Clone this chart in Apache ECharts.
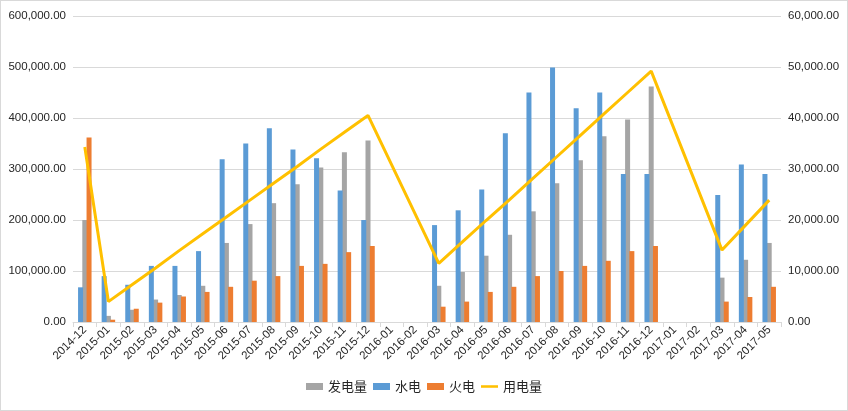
<!DOCTYPE html>
<html>
<head>
<meta charset="utf-8">
<script src="https://cdn.jsdelivr.net/npm/echarts@6/dist/echarts.min.js"></script>
<style>
html,body{margin:0;padding:0;background:#fff;}
#c{width:846px;height:409px;border:1px solid #d9d9d9;}
</style>
</head>
<body>
<div id="c"></div>
<script>
const categories = ['2014-12','2015-01','2015-02','2015-03','2015-04','2015-05','2015-06','2015-07','2015-08','2015-09','2015-10','2015-11','2015-12','2016-01','2016-02','2016-03','2016-04','2016-05','2016-06','2016-07','2016-08','2016-09','2016-10','2016-11','2016-12','2017-01','2017-02','2017-03','2017-04','2017-05'];
const hydro = [68000,90000,73000,110000,110000,139000,319000,350000,380000,338000,321000,258000,200000,null,null,190000,219000,260000,370000,450000,499000,419000,450000,290000,290000,null,null,249000,309000,290000];
const generation = [200000,12000,24000,44000,53000,71000,155000,192000,233000,270000,303000,333000,356000,null,null,71000,98000,130000,171000,217000,272000,317000,364000,397000,462000,null,null,87000,122000,155000];
const thermal = [362000,4500,26000,38000,50000,59000,69000,81000,90000,110000,114000,137000,149000,null,null,30000,40000,59000,69000,90000,100000,110000,120000,139000,149000,null,null,40000,49000,69000];
const consumption = [34300,4000,7300,10600,14000,17300,20600,23900,27200,30500,33900,37200,40500,null,null,11500,15700,19900,24000,28200,32400,36600,40800,45000,49200,null,null,14100,19000,23900];
const leftTicks = [0,100000,200000,300000,400000,500000,600000];
const rightTicks = [0,10000,20000,30000,40000,50000,60000];

const fmt = v => v.toLocaleString('en-US',{minimumFractionDigits:2,maximumFractionDigits:2});
const font = '"Liberation Sans","Noto Sans CJK SC",sans-serif';
const chart = echarts.init(document.getElementById('c'));
chart.setOption({
  animation:false,
  textStyle:{fontFamily:font},
  grid:{left:72,right:66,top:15,bottom:88},
  legend:{
    data:[
      {name:'发电量',icon:'rect'},
      {name:'水电',icon:'rect'},
      {name:'火电',icon:'rect'},
      {name:'用电量',icon:'path://M0 0H40V6H0Z'}
    ],
    bottom:12,left:'center',
    itemWidth:17,itemHeight:7,itemGap:6,
    textStyle:{fontSize:13,color:'#262626',fontFamily:'"Noto Sans CJK SC",sans-serif'}
  },
  xAxis:{
    type:'category',data:categories,
    axisLine:{lineStyle:{color:'#d9d9d9'}},
    axisTick:{show:true,lineStyle:{color:'#d9d9d9'},length:5},
    axisLabel:{rotate:45,fontSize:11.5,color:'#262626',margin:6,interval:0}
  },
  yAxis:[
    {type:'value',min:0,max:600000,interval:100000,
     axisLabel:{formatter:fmt,fontSize:11.5,color:'#262626',margin:7},
     splitLine:{lineStyle:{color:'#d9d9d9'}},axisLine:{show:false},axisTick:{show:false}},
    {type:'value',min:0,max:60000,interval:10000,position:'right',
     axisLabel:{formatter:fmt,fontSize:11.5,color:'#262626',margin:7},
     splitLine:{show:false},axisLine:{show:false},axisTick:{show:false}}
  ],
  series:[
    {name:'水电',type:'bar',data:hydro,barWidth:5,barGap:'-15%',z:3,itemStyle:{color:'#5B9BD5'}},
    {name:'发电量',type:'bar',data:generation,barWidth:5,barGap:'-15%',z:2,itemStyle:{color:'#A5A5A5'}},
    {name:'火电',type:'bar',data:thermal,barWidth:5,barGap:'-15%',z:2,itemStyle:{color:'#ED7D31'}},
    {name:'用电量',type:'line',yAxisIndex:1,data:consumption,connectNulls:true,showSymbol:false,symbol:'none',
     lineStyle:{color:'#FFC000',width:3},itemStyle:{color:'#FFC000'},z:5}
  ]
});
</script>
</body>
</html>
